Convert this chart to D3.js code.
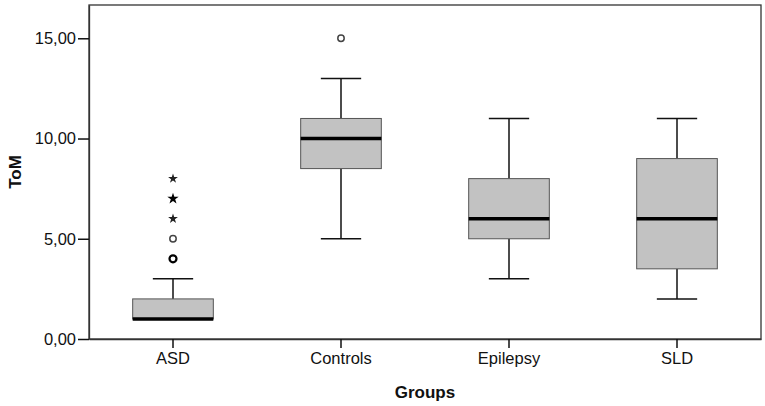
<!DOCTYPE html>
<html><head><meta charset="utf-8">
<script src="https://cdn.jsdelivr.net/npm/d3@7"></script>
<style>body{margin:0;background:#fff}svg{display:block}</style>
</head><body>
<script>
const groups = ["ASD","Controls","Epilepsy","SLD"];
const whiskerLow = [1, 5, 3, 2];
const q1 = [1, 8.5, 5, 3.5];
const median = [1, 10, 6, 6];
const q3 = [2, 11, 8, 9];
const whiskerHigh = [3, 13, 11, 11];
// outliers: [group, value, type]
const outlierGroup = ["ASD","ASD","ASD","ASD","ASD","Controls"];
const outlierValue = [4, 5, 6, 7, 8, 15];
const outlierType = ["circleBold","circle","star","starBold","star","circle"];
const yTicks = [0, 5, 10, 15];

const W = 765, H = 406;
const m = {left: 89, right: 4, top: 5, bottom: 67};
const svg = d3.select("body").append("svg").attr("width", W).attr("height", H);
const x = d3.scaleBand().domain(groups).range([m.left, W - m.right]).paddingInner(0).paddingOuter(0);
const y = d3.scaleLinear().domain([-0, 16.66]).range([H - m.bottom, m.top]);
const font = "'Liberation Sans', Arial, sans-serif";

// frame
svg.append("rect").attr("x", m.left).attr("y", m.top)
  .attr("width", W - m.right - m.left).attr("height", H - m.bottom - m.top)
  .attr("fill", "none").attr("stroke", "#333").attr("stroke-width", 1.3);

const yAxis = svg.append("g").attr("transform", `translate(${m.left},0)`)
  .call(d3.axisLeft(y).tickValues(yTicks).tickSize(11).tickSizeOuter(0).tickPadding(2)
    .tickFormat(d => d3.format(".2f")(d).replace(".", ",")));
yAxis.select(".domain").attr("stroke", "#333").attr("stroke-width", 1.3);
yAxis.selectAll(".tick line").attr("stroke", "#111").attr("stroke-width", 1.5);
yAxis.selectAll("text").attr("font-family", font).attr("font-size", 16.5).attr("fill", "#111");

const xAxis = svg.append("g").attr("transform", `translate(0,${H - m.bottom})`)
  .call(d3.axisBottom(x).tickSize(9).tickSizeOuter(0).tickPadding(4));
xAxis.select(".domain").attr("stroke", "#333").attr("stroke-width", 1.3);
xAxis.selectAll(".tick line").attr("stroke", "#111").attr("stroke-width", 1.5);
xAxis.selectAll("text").attr("font-family", font).attr("font-size", 16.5).attr("fill", "#111");

svg.append("text").attr("x", (m.left + W - m.right) / 2).attr("y", 398)
  .attr("text-anchor", "middle").attr("font-family", font).attr("font-weight", "bold")
  .attr("font-size", 17).attr("fill", "#111").text("Groups");
svg.append("text").attr("transform", `translate(21,${(m.top + H - m.bottom) / 2}) rotate(-90)`)
  .attr("text-anchor", "middle").attr("font-family", font).attr("font-weight", "bold")
  .attr("font-size", 17).attr("fill", "#111").text("ToM");

const bw = x.bandwidth() * 0.48, cw = bw / 2;
groups.forEach((g, i) => {
  const cx = x(g) + x.bandwidth() / 2;
  const gg = svg.append("g");
  // whiskers
  gg.append("line").attr("x1", cx).attr("x2", cx).attr("y1", y(q3[i])).attr("y2", y(whiskerHigh[i]))
    .attr("stroke", "#111").attr("stroke-width", 1.5);
  gg.append("line").attr("x1", cx).attr("x2", cx).attr("y1", y(q1[i])).attr("y2", y(whiskerLow[i]))
    .attr("stroke", "#111").attr("stroke-width", 1.5);
  if (whiskerHigh[i] > q3[i])
    gg.append("line").attr("x1", cx - cw / 2).attr("x2", cx + cw / 2).attr("y1", y(whiskerHigh[i])).attr("y2", y(whiskerHigh[i]))
      .attr("stroke", "#111").attr("stroke-width", 1.5);
  if (whiskerLow[i] < q1[i])
    gg.append("line").attr("x1", cx - cw / 2).attr("x2", cx + cw / 2).attr("y1", y(whiskerLow[i])).attr("y2", y(whiskerLow[i]))
      .attr("stroke", "#111").attr("stroke-width", 1.5);
  gg.append("rect").attr("x", cx - bw / 2).attr("y", y(q3[i])).attr("width", bw)
    .attr("height", y(q1[i]) - y(q3[i])).attr("fill", "#c2c2c2").attr("stroke", "#555").attr("stroke-width", 1);
  gg.append("line").attr("x1", cx - bw / 2).attr("x2", cx + bw / 2).attr("y1", y(median[i])).attr("y2", y(median[i]))
    .attr("stroke", "#000").attr("stroke-width", 3.5);
});

outlierValue.forEach((v, k) => {
  const cx = x(outlierGroup[k]) + x.bandwidth() / 2, cy = y(v), t = outlierType[k];
  if (t.startsWith("circle")) {
    svg.append("circle").attr("cx", cx).attr("cy", cy).attr("r", t === "circleBold" ? 3.5 : 3.2)
      .attr("fill", "none").attr("stroke", t === "circleBold" ? "#000" : "#444")
      .attr("stroke-width", t === "circleBold" ? 2.2 : 1.5);
  } else {
    svg.append("path").attr("d", d3.symbol(d3.symbolStar, t === "starBold" ? 40 : 30)())
      .attr("transform", `translate(${cx},${cy})`).attr("fill", t === "starBold" ? "#000" : "#222");
  }
});
</script>
</body></html>
